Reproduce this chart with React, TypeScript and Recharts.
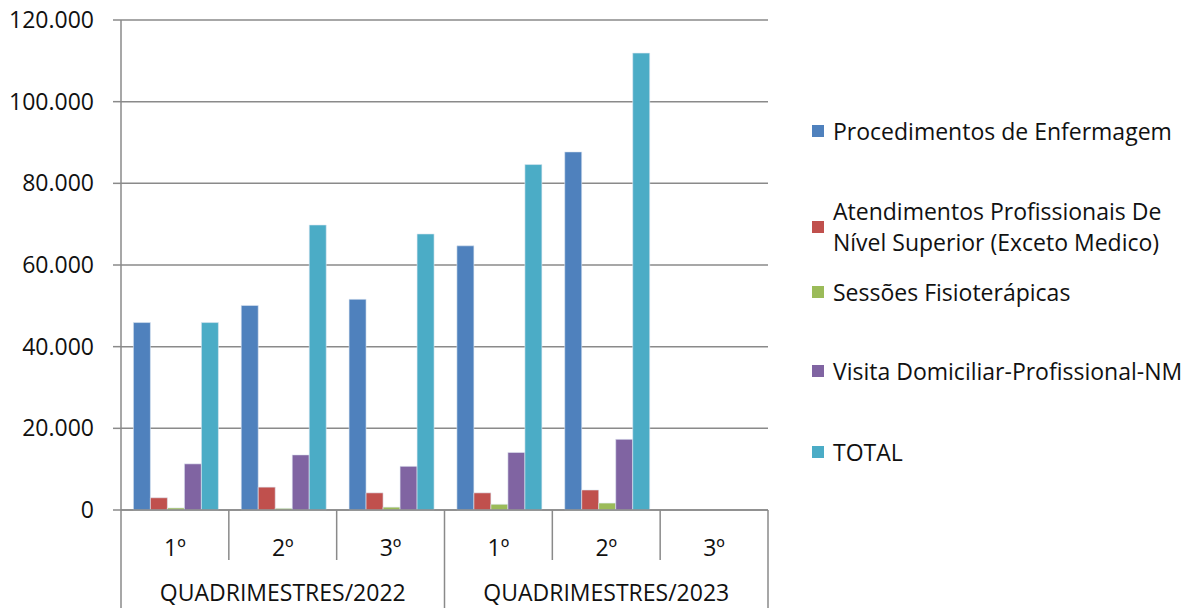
import { BarChart, Bar, XAxis, YAxis, CartesianGrid } from "recharts";

const quarters = ["1º", "2º", "3º", "1º", "2º", "3º"];
const years = [
  "QUADRIMESTRES/2022", "QUADRIMESTRES/2022", "QUADRIMESTRES/2022",
  "QUADRIMESTRES/2023", "QUADRIMESTRES/2023", "QUADRIMESTRES/2023",
];
const enfermagem = [45900, 50100, 51600, 64700, 87700, null];
const nivelSuperior = [3000, 5600, 4200, 4200, 4900, null];
const fisioterapia = [500, 400, 700, 1400, 1700, null];
const visita = [11300, 13500, 10700, 14100, 17300, null];
const total = [45900, 69800, 67600, 84600, 111900, null];
const yTicks = [0, 20000, 40000, 60000, 80000, 100000, 120000];

const seriesNames = [
  "Procedimentos de Enfermagem",
  "Atendimentos Profissionais De Nível Superior (Exceto Medico)",
  "Sessões Fisioterápicas",
  "Visita Domiciliar-Profissional-NM",
  "TOTAL",
];
const colors = ["#4F81BD", "#C0504D", "#9BBB59", "#8064A2", "#4BACC6"];
const keys = ["enf", "sup", "fis", "vis", "tot"];

const data = quarters.map((q, i) => ({
  q,
  year: years[i],
  enf: enfermagem[i],
  sup: nivelSuperior[i],
  fis: fisioterapia[i],
  vis: visita[i],
  tot: total[i],
}));

const FONT = "'Open Sans', 'Noto Sans', sans-serif";
const FS = 23;
const GRAY = "#8a8a8a";
const PLOT_LEFT = 121;
const PLOT_RIGHT = 768;
const PLOT_TOP = 20;
const PLOT_BOTTOM = 510;
const BAND = (PLOT_RIGHT - PLOT_LEFT) / quarters.length;

const fmt = (v: number) => String(v).replace(/\B(?=(\d{3})+(?!\d))/g, ".");

const QuarterTick = (props: any) => {
  const { x, payload, index } = props;
  const left = x - BAND / 2;
  return (
    <g>
      <text x={x} y={547} textAnchor="middle" dominantBaseline="central" fontSize={FS} fontFamily={FONT} fill="#111">
        {payload.value}
      </text>
      {index % 3 !== 0 && <line x1={left} x2={left} y1={PLOT_BOTTOM} y2={560} stroke={GRAY} strokeWidth={1.5} />}
    </g>
  );
};

const YearTick = (props: any) => {
  const { x, payload, index } = props;
  const left = x - BAND / 2;
  const right = x + BAND / 2;
  return (
    <g>
      {index % 3 === 1 && (
        <text x={x} y={592} textAnchor="middle" dominantBaseline="central" fontSize={FS} fontFamily={FONT} fill="#111">
          {payload.value}
        </text>
      )}
      {index % 3 === 0 && <line x1={left} x2={left} y1={PLOT_BOTTOM} y2={608} stroke={GRAY} strokeWidth={1.5} />}
      {index === quarters.length - 1 && <line x1={right} x2={right} y1={PLOT_BOTTOM} y2={608} stroke={GRAY} strokeWidth={1.5} />}
    </g>
  );
};

const legendTops = [131, 227, 292, 371, 452];

export default function App() {
  return (
    <div style={{ position: "absolute", left: 0, top: 0, width: 1191, height: 608, background: "#fff" }}>
      <BarChart
        width={1191}
        height={608}
        data={data}
        margin={{ top: PLOT_TOP, right: 1191 - PLOT_RIGHT, left: 0, bottom: 0 }}
        barCategoryGap="11.5%"
        barGap={0}
      >
        <CartesianGrid vertical={false} stroke={GRAY} strokeWidth={1.5} />
        <XAxis
          dataKey="q"
          interval={0}
          height={50}
          tick={<QuarterTick />}
          tickLine={false}
          axisLine={{ stroke: GRAY, strokeWidth: 1.5 }}
        />
        <XAxis
          xAxisId="year"
          dataKey="year"
          interval={0}
          height={48}
          tick={<YearTick />}
          tickLine={false}
          axisLine={false}
        />
        <YAxis
          width={PLOT_LEFT}
          domain={[0, 120000]}
          ticks={yTicks}
          tickFormatter={fmt}
          tickSize={8}
          tickMargin={19}
          tickLine={{ stroke: GRAY, strokeWidth: 1.5 }}
          axisLine={{ stroke: GRAY, strokeWidth: 1.5 }}
          tick={{ fontSize: FS, fontFamily: FONT, fill: "#111" }}
        />
        {keys.map((k, i) => (
          <Bar key={k} dataKey={k} name={seriesNames[i]} fill={colors[i]} stroke="#dfe8f2" strokeWidth={0.6} isAnimationActive={false} />
        ))}
      </BarChart>
      {seriesNames.map((name, i) => (
        <div
          key={name}
          style={{
            position: "absolute",
            left: 812,
            top: legendTops[i] - (i === 1 ? 31 : 15.5),
            width: 379,
            display: "flex",
            alignItems: "center",
            fontFamily: FONT,
            fontSize: FS,
            lineHeight: "31px",
            color: "#111",
          }}
        >
          <span style={{ width: 12, height: 12, background: colors[i], flexShrink: 0, marginRight: 9 }} />
          <span>{name}</span>
        </div>
      ))}
    </div>
  );
}
